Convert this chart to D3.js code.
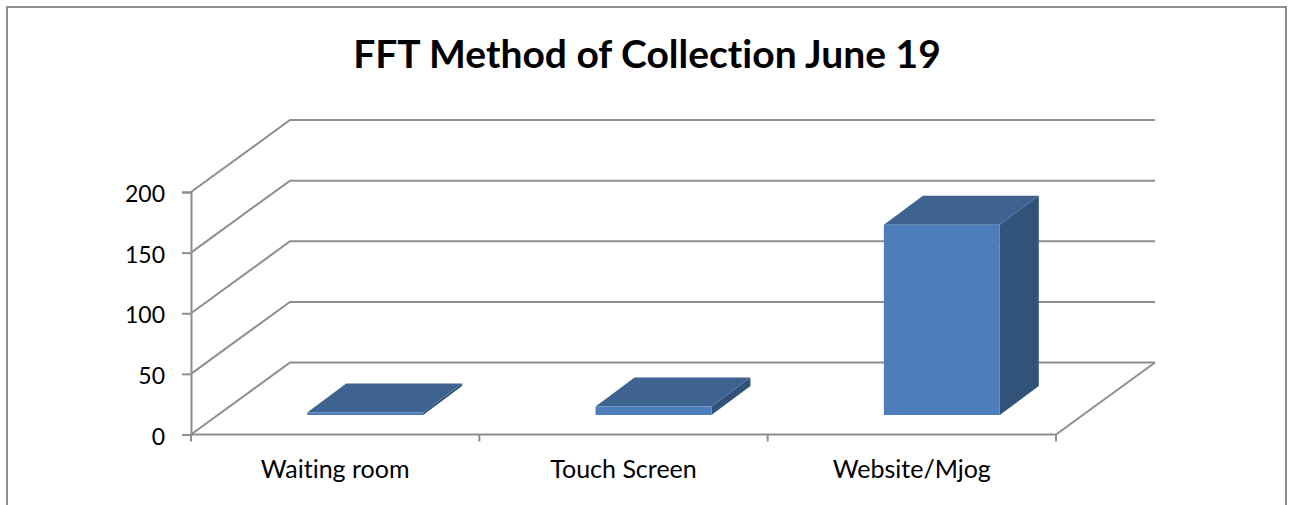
<!DOCTYPE html>
<html>
<head>
<meta charset="utf-8">
<script src="https://d3js.org/d3.v7.min.js"></script>
<style>
  html, body { margin: 0; padding: 0; background: #fff; overflow: hidden; }
  svg { display: block; }
  text { font-family: Lato, "Open Sans", sans-serif; fill: #000; font-variant-ligatures: none; }
</style>
</head>
<body>
<svg id="chart" width="1292" height="505"></svg>
<script>
const CHART_TITLE = "FFT Method of Collection June 19";
const categories = ["Waiting room", "Touch Screen", "Website/Mjog"];
const values = [2, 7, 157];
const yTicks = [0, 50, 100, 150, 200];

const LINE_COLOR = "#8e8e8e";
const FRONT_COLOR = "#4d7ebb";
const TOP_COLOR = "#3e6390";
const SIDE_COLOR = "#325379";
const LINE_WIDTH = 2;

// offsets of the 3d floor: back wall, and near/far faces of the bars
const WALL = { dx: 99, dy: 72 };
const BAR_NEAR = { dx: 30, dy: 19.5 };
const BAR_FAR = { dx: 69, dy: 48.5 };

const svg = d3.select("#chart");

const x = d3.scaleBand().domain(categories).range([191, 1056]).paddingInner(0.598).paddingOuter(0.299);
const band = d3.scaleBand().domain(categories).range([191, 1056]);
const y = d3.scaleLinear().domain([0, 200]).range([434.5, 192]);

svg.append("path")
  .attr("d", "M7,505V7H1286V505")
  .attr("fill", "none")
  .attr("stroke", LINE_COLOR)
  .attr("stroke-width", 2);

svg.append("text")
  .attr("x", 647)
  .attr("y", 68)
  .attr("text-anchor", "middle")
  .attr("font-size", 39)
  .attr("font-weight", 700)
  .text(CHART_TITLE);

const gridLayer = svg.append("g")
  .attr("fill", "none")
  .attr("stroke", LINE_COLOR)
  .attr("stroke-width", LINE_WIDTH);

gridLayer.selectAll("path.grid")
  .data(yTicks)
  .join("path")
  .attr("class", "grid")
  .attr("d", (d) => `M${x.range()[0]},${y(d)}L${x.range()[0] + WALL.dx},${y(d) - WALL.dy}H${x.range()[1] + WALL.dx}`);

gridLayer.append("path")
  .attr("d", `M${x.range()[0]},${y(0)}H${x.range()[1]}L${x.range()[1] + WALL.dx},${y(0) - WALL.dy}`);

const yAxis = d3.axisLeft(y).tickValues(yTicks).tickSize(9).tickPadding(17);
const yAxisGroup = svg.append("g").attr("transform", `translate(${x.range()[0]},0)`).call(yAxis);
yAxisGroup.select(".domain").attr("stroke", LINE_COLOR).attr("stroke-width", LINE_WIDTH);
yAxisGroup.selectAll("line").attr("stroke", LINE_COLOR).attr("stroke-width", LINE_WIDTH);
yAxisGroup.selectAll("text")
  .attr("font-size", 23)
  .attr("font-family", "Lato")
  .attr("fill", "#000")
  .attr("dy", "0.42em");

// category ticks sit on band edges, so the labels and ticks are drawn apart
const xAxis = d3.axisBottom(band).tickSize(0).tickPadding(26);
const xAxisGroup = svg.append("g").attr("transform", `translate(0,${y(0)})`).call(xAxis);
xAxisGroup.select(".domain").remove();
xAxisGroup.selectAll("text").attr("font-size", 25).attr("font-family", "Lato").attr("fill", "#000");

svg.append("g")
  .selectAll("line")
  .data([band.range()[0], ...categories.map((c) => band(c) + band.step())])
  .join("line")
  .attr("x1", (d) => d)
  .attr("x2", (d) => d)
  .attr("y1", y(0))
  .attr("y2", y(0) + 7)
  .attr("stroke", LINE_COLOR)
  .attr("stroke-width", LINE_WIDTH);

const bars = svg.append("g")
  .selectAll("g.bar")
  .data(categories.map((name, i) => ({ name, value: values[i] })))
  .join("g")
  .attr("class", "bar");

function corner(d, side, top, face) {
  const px = x(d.name) + (side ? x.bandwidth() : 0) + face.dx;
  const py = (top ? y(d.value) : y(0)) - face.dy;
  return [px, py];
}

bars.append("path")
  .attr("fill", SIDE_COLOR)
  .attr("d", (d) => d3.line()([
    corner(d, 1, 0, BAR_NEAR), corner(d, 1, 1, BAR_NEAR), corner(d, 1, 1, BAR_FAR), corner(d, 1, 0, BAR_FAR),
  ]) + "Z");

bars.append("path")
  .attr("fill", TOP_COLOR)
  .attr("d", (d) => d3.line()([
    corner(d, 0, 1, BAR_NEAR), corner(d, 1, 1, BAR_NEAR), corner(d, 1, 1, BAR_FAR), corner(d, 0, 1, BAR_FAR),
  ]) + "Z");

bars.append("path")
  .attr("fill", FRONT_COLOR)
  .attr("d", (d) => d3.line()([
    corner(d, 0, 0, BAR_NEAR), corner(d, 1, 0, BAR_NEAR), corner(d, 1, 1, BAR_NEAR), corner(d, 0, 1, BAR_NEAR),
  ]) + "Z");
</script>
</body>
</html>
